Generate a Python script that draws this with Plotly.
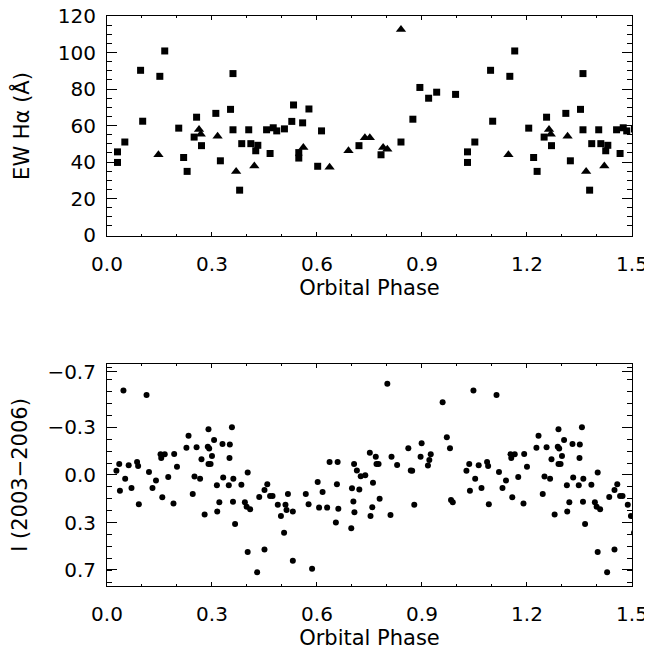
import plotly.graph_objects as go

# EW H-alpha, squares (phase 0-1)
sq_phase = [0.030, 0.030, 0.051, 0.096, 0.102, 0.151, 0.165, 0.205, 0.219, 0.229,
            0.249, 0.256, 0.270, 0.311, 0.324, 0.353, 0.360, 0.360, 0.379, 0.385,
            0.405, 0.411, 0.425, 0.431, 0.456, 0.466, 0.475, 0.485, 0.507, 0.528,
            0.533, 0.548, 0.548, 0.559, 0.577, 0.602, 0.613, 0.720, 0.783, 0.840,
            0.874, 0.894, 0.919, 0.942, 0.996]
sq_ew = [45.6, 39.8, 51.0, 90.3, 62.4, 87.0, 100.9, 58.6, 42.5, 34.9,
         53.7, 64.6, 49.0, 66.7, 40.7, 68.9, 88.5, 57.7, 24.6, 50.1,
         57.7, 50.1, 46.2, 49.2, 57.7, 44.7, 58.8, 57.1, 58.2, 62.3,
         71.3, 45.2, 42.2, 61.5, 69.1, 37.7, 57.1, 49.0, 44.0, 51.0,
         63.5, 80.9, 75.0, 78.3, 77.1]

# EW H-alpha, triangles
tri_phase = [0.147, 0.263, 0.268, 0.316, 0.369, 0.421, 0.561, 0.636, 0.690, 0.737,
             0.751, 0.789, 0.801, 0.840]
tri_ew = [44.0, 57.9, 55.2, 54.1, 34.9, 37.9, 48.0, 37.2, 46.2, 53.4,
          53.4, 48.0, 47.1, 112.7]

# I band photometry
i_phase = [0.027, 0.035, 0.037, 0.047, 0.052, 0.062, 0.070, 0.086, 0.089, 0.091,
           0.113, 0.120, 0.130, 0.140, 0.153, 0.155, 0.158, 0.165, 0.175, 0.190,
           0.192, 0.200, 0.227, 0.233, 0.245, 0.250, 0.256, 0.266, 0.270, 0.279,
           0.288, 0.290, 0.292, 0.290, 0.296, 0.300, 0.306, 0.314, 0.315, 0.321,
           0.330, 0.332, 0.348, 0.350, 0.351, 0.357, 0.361, 0.360, 0.366, 0.384,
           0.394, 0.399, 0.402, 0.402, 0.409, 0.429, 0.435, 0.450, 0.450, 0.458,
           0.466, 0.473, 0.488, 0.497, 0.506, 0.510, 0.513, 0.517, 0.531, 0.531,
           0.568, 0.576, 0.586, 0.602, 0.606, 0.616, 0.629, 0.636, 0.654, 0.657,
           0.659, 0.661, 0.698, 0.700, 0.704, 0.706, 0.707, 0.714, 0.721, 0.725,
           0.738, 0.751, 0.753, 0.758, 0.760, 0.768, 0.770, 0.776, 0.779, 0.801,
           0.810, 0.813, 0.829, 0.861, 0.868, 0.872, 0.878, 0.896, 0.899, 0.917,
           0.921, 0.925, 0.959, 0.971, 0.980, 0.983, 0.988]
i_mag = [-0.027, -0.069, 0.099, -0.532, 0.023, -0.061, 0.082, -0.082, -0.057, 0.184,
         -0.503, -0.019, 0.082, 0.034, -0.130, -0.107, 0.140, -0.130, 0.013, 0.180,
         -0.132, -0.052, -0.172, -0.247, 0.119, 0.010, -0.174, 0.023, -0.099, 0.249,
         -0.178, -0.287, -0.166, -0.069, -0.069, -0.119, -0.220, 0.065, 0.229, 0.172,
         -0.195, 0.015, 0.065, -0.107, -0.191, -0.300, 0.023, 0.168, 0.308, 0.061,
         0.172, 0.199, -0.015, 0.484, 0.216, 0.612, 0.138, 0.468, 0.094, 0.059,
         0.132, 0.132, 0.187, 0.258, 0.363, 0.187, 0.220, 0.119, 0.229, 0.539,
         0.119, 0.184, 0.589, 0.044, 0.205, 0.107, 0.205, -0.082, 0.298, 0.059,
         -0.082, 0.212, 0.335, 0.084, 0.166, -0.069, 0.235, -0.029, 0.092, 0.008,
         0.002, -0.140, 0.258, 0.203, 0.048, -0.115, -0.069, -0.069, 0.149, -0.574,
         0.252, -0.115, -0.063, -0.168, -0.029, -0.027, 0.187, -0.115, -0.199, -0.059,
         -0.094, -0.130, -0.457, -0.237, -0.168, 0.157, 0.172]

i_tickvals = [-0.648, -0.3, 0.0, 0.3, 0.597]
i_ticktext = ["\u22120.7", "\u22120.3", "0.0", "0.3", "0.7"]


def two_cycles(phase, vals):
    # plot phase and phase+1 so that 0-1.5 is covered
    xs = list(phase) + [p + 1 for p in phase if p < 0.52]
    ys = list(vals) + [v for p, v in zip(phase, vals) if p < 0.52]
    return xs, ys


FONT = "DejaVu Sans"

fig = go.Figure()

x, y = two_cycles(sq_phase, sq_ew)
fig.add_trace(go.Scatter(x=x, y=y, mode="markers", xaxis="x", yaxis="y",
                         marker=dict(symbol="square", size=7, color="black")))
x, y = two_cycles(tri_phase, tri_ew)
fig.add_trace(go.Scatter(x=x, y=y, mode="markers", xaxis="x", yaxis="y",
                         marker=dict(symbol="triangle-up", size=9, color="black")))
x, y = two_cycles(i_phase, i_mag)
fig.add_trace(go.Scatter(x=x, y=y, mode="markers", xaxis="x2", yaxis="y2",
                         marker=dict(symbol="circle", size=6, color="black")))

xcommon = dict(range=[0, 1.5], tickmode="array",
               tickvals=[0, 0.3, 0.6, 0.9, 1.2, 1.5],
               ticktext=["0.0", "0.3", "0.6", "0.9", "1.2", "1.5"],
               ticks="inside", ticklen=4, tickcolor="black",
               minor=dict(dtick=0.1, tick0=0, ticks="inside", ticklen=2, tickcolor="black"),
               showline=True, linecolor="black", linewidth=1, mirror="allticks",
               showgrid=False, zeroline=False, ticklabelstandoff=10,
               automargin=False, ticklabeloverflow="allow",
               tickfont=dict(family=FONT, size=20, color="black"),
               title=dict(text="Orbital Phase", standoff=4,
                          font=dict(family=FONT, size=21, color="black")))
ycommon = dict(ticks="inside", ticklen=10, tickcolor="black",
               showline=True, linecolor="black", linewidth=1, mirror="allticks",
               showgrid=False, zeroline=False, ticklabelstandoff=6,
               automargin=False, ticklabeloverflow="allow",
               tickfont=dict(family=FONT, size=20, color="black"))

# page body has an 8px margin, so the figure is a bit smaller than the window
fig.update_layout(
    width=644, height=642,
    margin=dict(l=0, r=0, t=0, b=0),
    paper_bgcolor="white", plot_bgcolor="white",
    showlegend=False,
    xaxis=dict(xcommon, domain=[0.1537, 0.9689], anchor="y"),
    yaxis=dict(ycommon, domain=[0.6449, 0.9875], anchor="x",
               range=[-0.5, 120.05], tickvals=[0, 20, 40, 60, 80, 100, 120],
               minor=dict(dtick=5, tick0=0, ticks="inside", ticklen=5, tickcolor="black"),
               title=dict(text="EW H\u03b1 (\u00c5)", standoff=22,
                          font=dict(family=FONT, size=21, color="black"))),
    xaxis2=dict(xcommon, domain=[0.1537, 0.9689], anchor="y2"),
    yaxis2=dict(ycommon, domain=[0.0997, 0.4455], anchor="x2",
                range=[0.698, -0.698], tickvals=i_tickvals, ticktext=i_ticktext,
                minor=dict(dtick=0.075, tick0=0, ticks="inside", ticklen=5, tickcolor="black"),
                title=dict(text="I (2003\u22122006)", standoff=14,
                           font=dict(family=FONT, size=21, color="black"))),
)

fig.write_html("out.html")
